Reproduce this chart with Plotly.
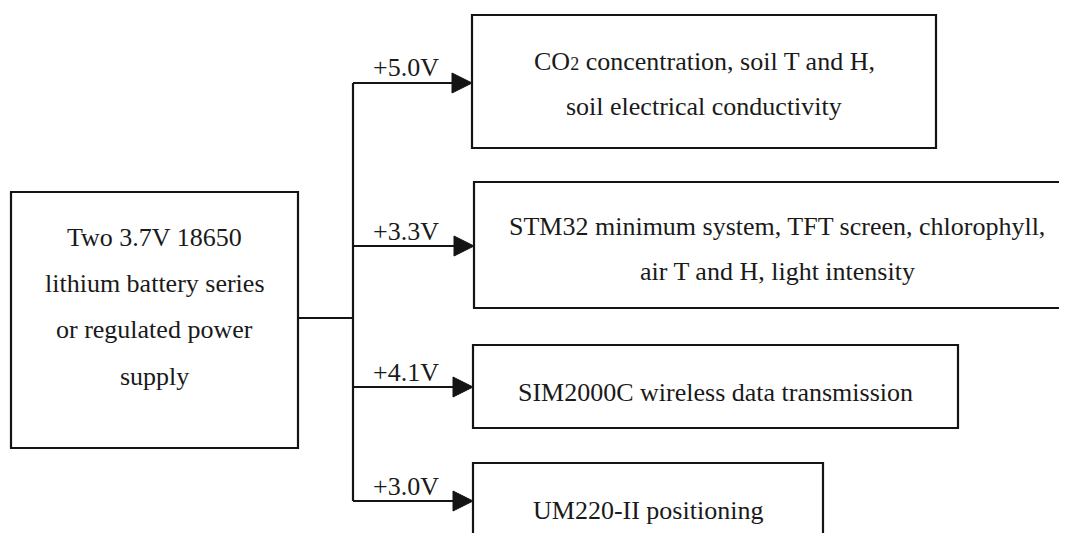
import plotly.graph_objects as go

W, H = 1067, 533
OFF = 8  # page body margin

# ---- content ----
source_lines = ["Two 3.7V 18650", "lithium battery series", "or regulated power", "supply"]
voltages = ["+5.0V", "+3.3V", "+4.1V", "+3.0V"]
load_lines = [
    ["CO<span style='font-size:18px'>2</span> concentration, soil T and H,", "soil electrical conductivity"],
    ["STM32 minimum system, TFT screen, chlorophyll,", "air T and H, light intensity"],
    ["SIM2000C wireless data transmission"],
    ["UM220-II positioning"],
]

# ---- layout geometry (pixels) ----
src_box = dict(x0=11, x1=298, y0=192, y1=448)
src_line_y = [237, 283, 329, 376]
bus_x = 353
bus_join_y = 318
load_boxes = [
    dict(x0=472, x1=936, y0=15, y1=148),
    dict(x0=474, x1=1080, y0=182, y1=308),
    dict(x0=473, x1=958, y0=345, y1=428),
    dict(x0=473, x1=823, y0=463, y1=560),
]
arrow_y = [83, 246, 387, 501]
label_y = [67, 231, 372, 486]
load_text_y = [[61, 106], [226, 271], [392], [510]]

LC = "#141414"
LW = 2.2
FONT = dict(family="'Times New Roman', 'Liberation Serif', Tinos, 'DejaVu Serif', serif",
            size=26, color="#1a1a1a")

shapes = []
annotations = []

def rect(b):
    shapes.append(dict(type="rect", xref="x", yref="y", x0=b["x0"], x1=b["x1"],
                       y0=b["y0"], y1=b["y1"], line=dict(color=LC, width=LW),
                       fillcolor="rgba(0,0,0,0)"))

def line(x0, y0, x1, y1):
    shapes.append(dict(type="line", xref="x", yref="y", x0=x0, y0=y0, x1=x1, y1=y1,
                       line=dict(color=LC, width=LW)))

rect(src_box)
for txt, y in zip(source_lines, src_line_y):
    annotations.append(dict(x=(src_box["x0"] + src_box["x1"]) / 2, y=y, text=txt,
                            showarrow=False, xref="x", yref="y", font=FONT,
                            xanchor="center", yanchor="middle"))

line(src_box["x1"], bus_join_y, bus_x, bus_join_y)
line(bus_x, arrow_y[0], bus_x, arrow_y[-1])

head_len, head_half = 20, 10
for v, b, ay, ly, lines, ty in zip(voltages, load_boxes, arrow_y, label_y, load_lines, load_text_y):
    rect(b)
    tip = b["x0"]
    line(bus_x, ay, tip - head_len + 2, ay)
    shapes.append(dict(type="path", xref="x", yref="y",
                       path=f"M {tip} {ay} L {tip-head_len} {ay-head_half} L {tip-head_len} {ay+head_half} Z",
                       fillcolor=LC, line=dict(color=LC, width=1)))
    annotations.append(dict(x=406, y=ly, text=v, showarrow=False,
                            xref="x", yref="y", font=FONT, xanchor="center", yanchor="middle"))
    cx = (b["x0"] + b["x1"]) / 2
    for t, y in zip(lines, ty):
        annotations.append(dict(x=cx, y=y, text=t, showarrow=False, xref="x", yref="y",
                                font=FONT, xanchor="center", yanchor="middle"))

fig = go.Figure()
fig.update_layout(
    width=W - OFF, height=H - OFF,
    margin=dict(l=0, r=0, t=0, b=0),
    paper_bgcolor="white", plot_bgcolor="white",
    font=FONT,
    xaxis=dict(range=[OFF, W], visible=False, fixedrange=True),
    yaxis=dict(range=[H, OFF], visible=False, fixedrange=True),
    shapes=shapes, annotations=annotations, showlegend=False,
)
fig.write_html("out.html")
